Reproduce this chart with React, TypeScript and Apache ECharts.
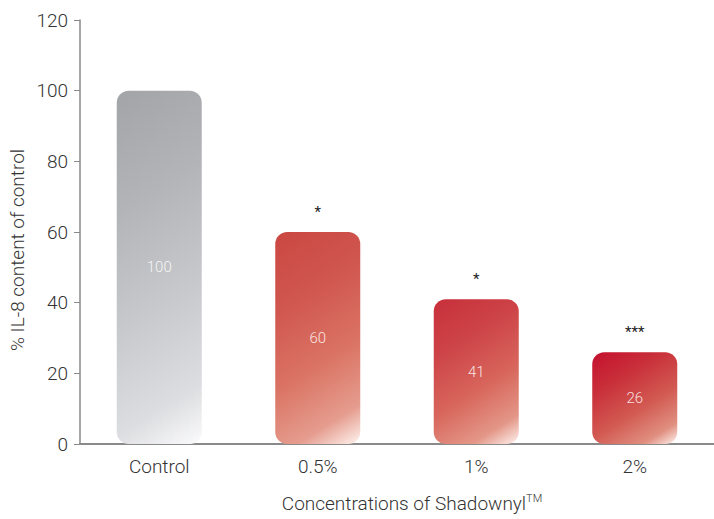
import React, { useEffect, useRef } from "react";
import * as echarts from "echarts";

const categories = ["Control", "0.5%", "1%", "2%"];
const values = [100, 60, 41, 26];
const stars = ["", "*", "*", "***"];
const yTicks = [0, 20, 40, 60, 80, 100, 120];
const stopColors = [
  ["#a3a4a8", "#b3b4b8", "#c8c9cc", "#dcdde0", "#fbfbfc"],
  ["#cb4741", "#d05650", "#da7363", "#e59c8e", "#fff4f0"],
  ["#c72f3a", "#cd4448", "#d8665c", "#e39687", "#fff4f0"],
  ["#c4102e", "#c9303a", "#d25a52", "#e08f80", "#fff4f0"],
];
const stopOffsets = [0, 0.3, 0.6, 0.85, 1];

const FONT = "Roboto, 'Liberation Sans', Arial, sans-serif";
const FW = 300;
const BAR_W = 85;
const ANGLE = (58 * Math.PI) / 180;

export default function App() {
  const ref = useRef<HTMLDivElement>(null);
  useEffect(() => {
    if (!ref.current) return;
    const chart = echarts.init(ref.current, null, { renderer: "svg" });
    const base: any = {
      animation: false,
      grid: { left: 80, right: -3, top: 20, bottom: 75 },
      xAxis: {
        type: "category",
        data: categories,
        axisLine: { lineStyle: { color: "#8a8a8a", width: 2 } },
        axisTick: { length: 8, lineStyle: { color: "#9a9a9a", width: 1 } },
        axisLabel: { fontSize: 19, color: "#333", margin: 13, fontFamily: FONT, fontWeight: FW },
      },
      yAxis: {
        type: "value",
        min: 0,
        max: 120,
        interval: 20,
        splitLine: { show: false },
        axisLine: { show: true, lineStyle: { color: "#8a8a8a", width: 1.5 } },
        axisTick: { show: true, length: 6, lineStyle: { color: "#8a8a8a" } },
        axisLabel: {
          fontSize: 19,
          color: "#333",
          margin: 12,
          fontFamily: FONT,
          fontWeight: FW,
          formatter: (v: number) => (yTicks.includes(v) ? String(v) : ""),
        },
      },
      graphic: [
        {
          type: "text",
          x: 17,
          y: 250,
          rotation: Math.PI / 2,
          style: {
            text: "% IL-8 content of control",
            fontSize: 19,
            fontWeight: FW,
            fill: "#333",
            fontFamily: FONT,
            align: "center",
            verticalAlign: "middle",
          },
        },
        {
          type: "text",
          x: 412,
          y: 503,
          style: {
            text: "Concentrations of Shadownyl{sup|TM}",
            fontSize: 19,
            fontWeight: FW,
            fill: "#333",
            fontFamily: FONT,
            align: "center",
            verticalAlign: "middle",
            rich: {
              sup: { fontSize: 11, fontWeight: FW, fill: "#333", fontFamily: FONT, verticalAlign: "top", padding: [0, 0, 10, 0] },
            },
          },
        },
      ],
      series: [
        {
          type: "bar",
          data: values,
          barWidth: BAR_W,
          itemStyle: { borderRadius: 12, color: "#aaa" },
          label: {
            show: true,
            position: "inside",
            fontSize: 15,
            fontWeight: FW,
            color: "rgba(255,255,255,0.85)",
            fontFamily: FONT,
          },
          z: 2,
        },
        {
          type: "bar",
          data: values,
          barWidth: BAR_W,
          barGap: "-100%",
          itemStyle: { color: "transparent" },
          label: {
            show: true,
            position: "top",
            distance: 13,
            fontSize: 15,
            color: "#222",
            fontFamily: FONT,
            formatter: (p: any) => stars[p.dataIndex],
          },
          silent: true,
          z: 1,
        },
      ],
    };
    chart.setOption(base);
    const dx = Math.cos(ANGLE);
    const dy = Math.sin(ANGLE);
    const barData = values.map((v, i) => {
      const top = chart.convertToPixel({ gridIndex: 0 }, [i, v]) as number[];
      const bottom = chart.convertToPixel({ gridIndex: 0 }, [i, 0]) as number[];
      const x0 = top[0] - BAR_W / 2;
      const h = bottom[1] - top[1];
      const L = BAR_W * dx + h * dy;
      return {
        value: v,
        itemStyle: {
          borderRadius: 12,
          color: new echarts.graphic.LinearGradient(
            x0,
            top[1],
            x0 + dx * L,
            top[1] + dy * L,
            stopOffsets.map((o, k) => ({ offset: o, color: stopColors[i][k] })),
            true
          ),
        },
      };
    });
    chart.setOption({ series: [{ data: barData }, {}] });
    return () => chart.dispose();
  }, []);
  return (
    <div
      ref={ref}
      style={{ position: "fixed", left: 0, top: 0, width: 714, height: 519, background: "#fff" }}
    />
  );
}
